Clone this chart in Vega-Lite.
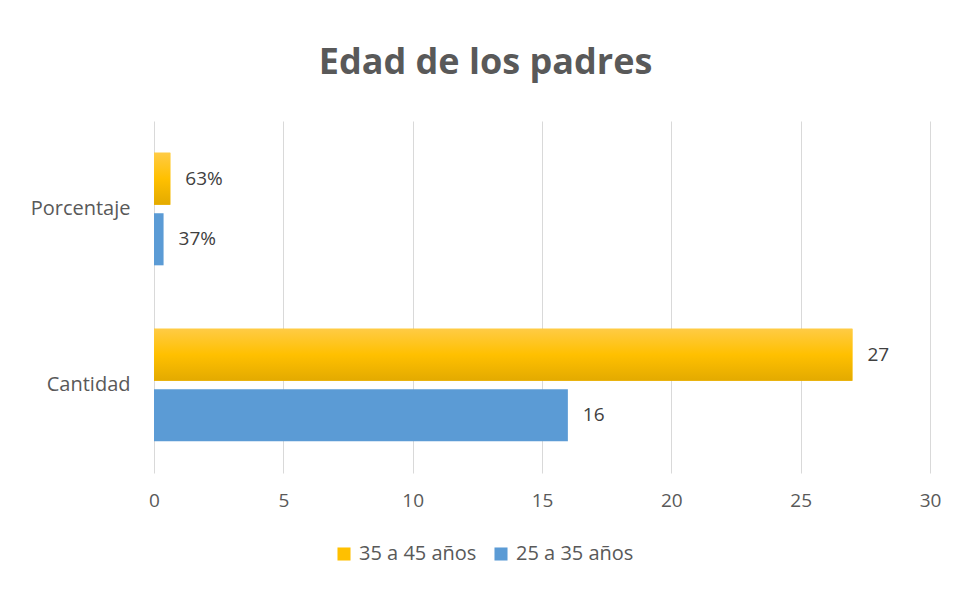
{
  "$schema": "https://vega.github.io/schema/vega-lite/v6.json",
  "width": 963,
  "height": 589,
  "autosize": {"type": "fit", "contains": "padding"},
  "padding": {"left": 30, "right": 22, "top": 45, "bottom": 79},
  "background": "white",
  "config": {"view": {"stroke": null}, "font": "Open Sans"},
  "title": {"text": "Edad de los padres", "fontSize": 36, "font": "Open Sans", "fontWeight": "bold", "color": "#595959", "offset": 39, "anchor": "middle", "frame": "bounds"},
  "data": {"values": [
    {"categoria": "Porcentaje", "serie": "35 a 45 años", "valor": 0.63, "etiqueta": "63%"},
    {"categoria": "Porcentaje", "serie": "25 a 35 años", "valor": 0.37, "etiqueta": "37%"},
    {"categoria": "Cantidad", "serie": "35 a 45 años", "valor": 27, "etiqueta": "27"},
    {"categoria": "Cantidad", "serie": "25 a 35 años", "valor": 16, "etiqueta": "16"}
  ]},
  "encoding": {
    "y": {"field": "categoria", "type": "nominal", "sort": ["Porcentaje", "Cantidad"], "title": null,
      "scale": {"paddingInner": 0.36, "paddingOuter": 0.18},
      "axis": {"domain": false, "ticks": false, "labelFontSize": 20, "labelColor": "#595959", "labelPadding": 24, "labelFont": "Open Sans"}},
    "yOffset": {"field": "serie", "type": "nominal", "sort": ["35 a 45 años", "25 a 35 años"], "scale": {"paddingInner": 0.14}},
    "x": {"field": "valor", "type": "quantitative", "title": null, "scale": {"domain": [0, 30], "nice": false},
      "axis": {"values": [0, 5, 10, 15, 20, 25, 30], "grid": true, "gridColor": "#D9D9D9", "domain": false, "ticks": false, "labelFlush": false, "labelFontSize": 19, "labelColor": "#595959", "labelPadding": 18, "labelFont": "Open Sans"}}
  },
  "layer": [
    {"mark": {"type": "bar"},
     "encoding": {"color": {"field": "serie", "type": "nominal",
       "scale": {"domain": ["35 a 45 años", "25 a 35 años"], "range": ["#FFC000", "#5B9BD5"]},
       "legend": {"orient": "none", "legendX": 180, "legendY": 423, "direction": "horizontal", "title": null, "symbolType": "square", "symbolSize": 170, "symbolStrokeWidth": 0, "labelFontSize": 20, "labelColor": "#595959", "labelFont": "Open Sans", "columnPadding": 14, "labelOffset": 5}}}},
    {"transform": [{"filter": "datum.serie === '35 a 45 años'"}],
     "mark": {"type": "bar", "color": {"gradient": "linear", "x1": 0, "y1": 0, "x2": 0, "y2": 1,
       "stops": [{"offset": 0, "color": "#FFCB45"}, {"offset": 0.5, "color": "#FFC000"}, {"offset": 1, "color": "#E3AA00"}]}}},
    {"mark": {"type": "text", "align": "left", "baseline": "middle", "dx": 15, "fontSize": 19, "color": "#404040", "font": "Open Sans"},
     "encoding": {"text": {"field": "etiqueta"}}}
  ]
}
